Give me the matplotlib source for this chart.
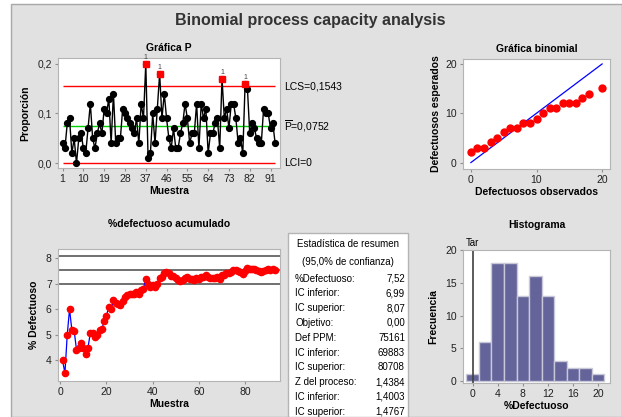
import matplotlib
matplotlib.use('Agg')
import matplotlib.pyplot as plt
from matplotlib.patches import Rectangle
import numpy as np

plt.rcParams['font.family'] = ['Liberation Sans', 'DejaVu Sans']
plt.rcParams['mathtext.fontset'] = 'custom'
plt.rcParams['mathtext.rm'] = 'Liberation Sans'

# defectives per sample (subgroup size 100) -> percent defective
pct_def = [4, 3, 8, 9, 2, 5, 0, 5, 6, 3, 2, 7, 12, 5, 3, 6, 8, 6, 11, 10, 13, 4, 14,
           4, 5, 5, 11, 10, 9, 8, 7, 6, 9, 4, 12, 9, 20,
           1, 2, 10, 4, 11, 18, 9,
           14, 9, 5, 3, 7, 3, 3, 6, 8, 12, 9, 4, 6, 6, 12, 3, 12, 9, 11, 2, 6, 6, 8, 9, 3, 17,
           9, 11, 7, 12, 12, 9, 4, 5, 2, 16, 15, 6, 8, 7, 5, 4, 4, 11, 10, 10, 7, 8, 4]
n_sub = 100
p_bar = 0.0752
ucl = 0.1543
lcl = 0.0

binom_obs = [0, 1, 2, 3, 4, 5, 6, 7, 8, 9, 10, 11, 12, 13, 14, 15, 16, 17, 18, 20]
binom_exp = [2.2, 3, 3, 4.1, 5, 6.1, 7, 7, 8, 8, 8.9, 10, 11.1, 11.1, 12, 12, 12, 13.1, 14, 15.1]
ref_x = [0, 20]
ref_y = [0, 20]

ci_lines = [6.99, 7.52, 8.07]
hist_edges = list(range(-1, 23, 2))

stats_names = ['%Defectuoso:', 'IC inferior:', 'IC superior:', 'Objetivo:', 'Def PPM:',
               'IC inferior:', 'IC superior:', 'Z del proceso:', 'IC inferior:', 'IC superior:']
stats_vals = ['7,52', '6,99', '8,07', '0,00', '75161', '69883', '80708', '1,4384', '1,4003', '1,4767']

W, H = 622, 417
fig = plt.figure(figsize=(W / 100, H / 100), dpi=100)
fig.patches.append(Rectangle((11 / W, 0), (W - 11) / W, (H - 4) / H, transform=fig.transFigure,
                             facecolor='#e1e1e1', edgecolor='#a8a8a8', lw=1, zorder=-10))


def ax_at(l, t, r, b):
    a = fig.add_axes([l / W, 1 - b / H, (r - l) / W, (b - t) / H])
    for s in a.spines.values():
        s.set_color('#b4b4b4')
    a.tick_params(labelsize=7.5, length=2.5, color='#909090', pad=2, labelcolor='#202020')
    return a


fig.text(310 / W, 1 - 20 / H, 'Binomial process capacity analysis', ha='center', va='center',
         fontsize=11.5, fontweight='bold', color='#333333')

# P chart
samples = np.arange(1, len(pct_def) + 1)
prop = np.array(pct_def) / n_sub
ax = ax_at(58, 58, 280, 168)
ax.plot(samples, prop, color='black', lw=1, marker='o', ms=4.2, zorder=3)
out = prop > ucl
ax.plot(samples[out], prop[out], 's', color='red', ms=5, zorder=4)
for x, y in zip(samples[out], prop[out]):
    ax.text(x, y + 0.006, '1', ha='center', va='bottom', fontsize=5, color='#404040')
ax.hlines([ucl, lcl], 1, len(pct_def), color='red', lw=1)
ax.hlines(p_bar, 1, len(pct_def), color='#00d000', lw=1)
ax.set_xlim(-1, 95.1)
ax.set_ylim(-0.0094, 0.2114)
ax.set_xticks(range(1, 92, 9))
ax.set_yticks([0, 0.1, 0.2])
ax.set_yticklabels(['0,0', '0,1', '0,2'])
ax.set_xlabel('Muestra', fontsize=7.5, fontweight='bold', labelpad=1)
ax.set_ylabel('Proporción', fontsize=7.5, fontweight='bold', labelpad=5)
ax.set_title('Gráfica P', fontsize=7.5, fontweight='bold', pad=5)
tr = ax.get_yaxis_transform()
ax.text(1.02, ucl, 'LCS=0,1543', transform=tr, va='center', fontsize=7.5)
ax.text(1.02, p_bar, r'$\overline{\mathrm{P}}$=0,0752', transform=tr, va='center', fontsize=7.5)
ax.text(1.02, lcl, 'LCI=0', transform=tr, va='center', fontsize=7.5)

# binomial plot
ax = ax_at(463, 59, 610, 169)
ax.plot(ref_x, ref_y, color='blue', lw=0.9)
ax.plot(binom_obs, binom_exp, 'o', color='red', ms=5)
ax.set_xlim(-1.2, 21.2)
ax.set_ylim(-1.3, 21)
ax.set_xticks([0, 10, 20])
ax.set_yticks([0, 10, 20])
ax.set_xlabel('Defectuosos observados', fontsize=7.5, fontweight='bold', labelpad=1)
ax.set_ylabel('Defectuosos esperados', fontsize=7.5, fontweight='bold', labelpad=3)
ax.set_title('Gráfica binomial', fontsize=7.5, fontweight='bold', pad=5)

# cumulative % defective
cum_pct = np.cumsum(pct_def) / samples
ax = ax_at(58, 249, 280, 381)
ax.hlines(ci_lines, -5, 100, color='#707070', lw=1.4)
ax.plot(samples, cum_pct, color='blue', lw=0.9)
ax.plot(samples, cum_pct, 'o', color='red', ms=4.5)
ax.set_xlim(-1, 95.2)
ax.set_ylim(3.2, 8.35)
ax.set_xticks([0, 20, 40, 60, 80])
ax.set_yticks([4, 5, 6, 7, 8])
ax.set_xlabel('Muestra', fontsize=7.5, fontweight='bold', labelpad=1)
ax.set_ylabel('% Defectuoso', fontsize=7.5, fontweight='bold', labelpad=5)
ax.set_title('%defectuoso acumulado', fontsize=7.5, fontweight='bold', pad=16)

# summary table
fig.patches.append(Rectangle((288 / W, 0), 120 / W, (H - 233) / H, transform=fig.transFigure,
                             facecolor='white', edgecolor='#b4b4b4', lw=1))
fig.text(348 / W, 1 - 244 / H, 'Estadística de resumen', ha='center', va='center', fontsize=7)
fig.text(348 / W, 1 - 262 / H, '(95,0% de confianza)', ha='center', va='center', fontsize=7)
for i, (nm, vl) in enumerate(zip(stats_names, stats_vals)):
    y = 1 - (278.5 + i * 14.8) / H
    fig.text(295 / W, y, nm, ha='left', va='center', fontsize=7)
    fig.text(405 / W, y, vl, ha='right', va='center', fontsize=7)

# histogram
ax = ax_at(463, 250, 610, 383)
ax.hist(pct_def, bins=hist_edges, color='#64649a', edgecolor='#c8c8d8', lw=1)
ax.axvline(0, color='#404040', lw=1.2)
ax.text(0, 20.3, 'Tar', ha='center', va='bottom', fontsize=7)
ax.set_xlim(-1.54, 21.9)
ax.set_ylim(-0.35, 20.05)
ax.set_xticks(range(0, 21, 4))
ax.set_yticks([0, 5, 10, 15, 20])
ax.set_xlabel('%Defectuoso', fontsize=7.5, fontweight='bold', labelpad=1)
ax.set_ylabel('Frecuencia', fontsize=7.5, fontweight='bold', labelpad=5)
ax.set_title('Histograma', fontsize=7.5, fontweight='bold', pad=16)

fig.savefig('out.png', dpi=100)
